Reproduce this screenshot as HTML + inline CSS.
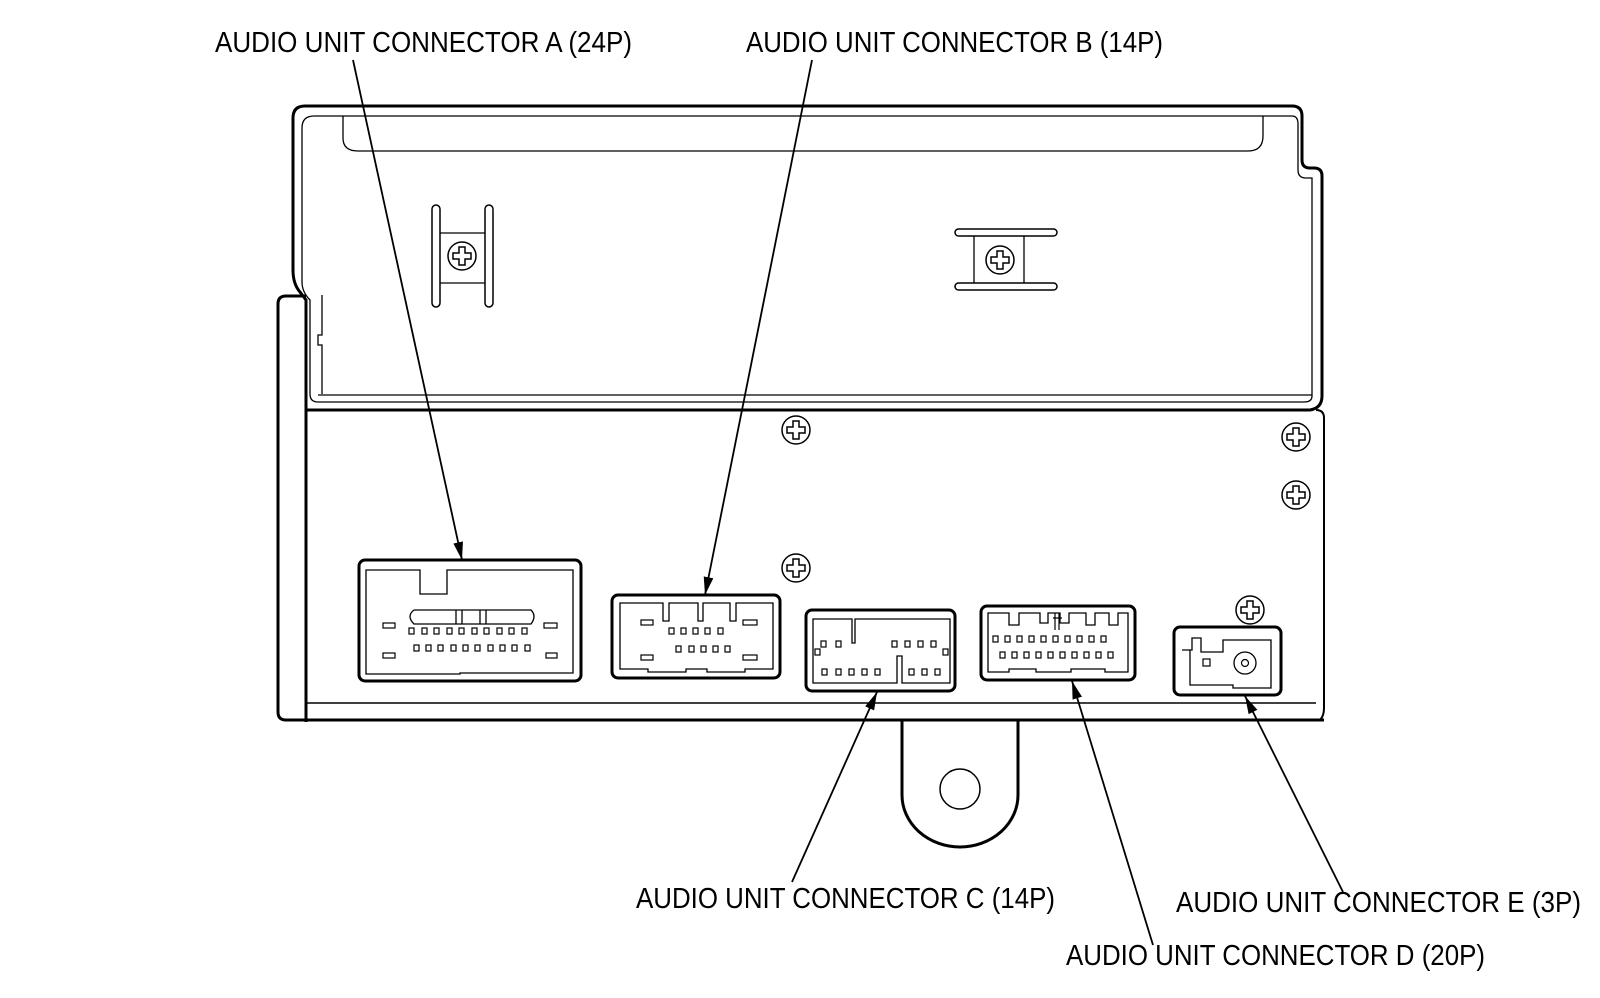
<!DOCTYPE html>
<html><head><meta charset="utf-8"><style>html,body{margin:0;padding:0;background:#fff}svg{display:block}</style></head>
<body>
<svg width="1600" height="998" viewBox="0 0 1600 998" xmlns="http://www.w3.org/2000/svg" font-family="Liberation Sans, Arial, sans-serif">
<defs>
<g id="scr"><circle r="14" fill="#fff" stroke="#000" stroke-width="1.5"/><path d="M-3,-9 h6 v6 h6 v6 h-6 v6 h-6 v-6 h-6 v-6 h6 z" fill="none" stroke="#000" stroke-width="1.5"/></g>
<marker id="ar" viewBox="0 0 10 10" refX="10" refY="5" markerWidth="18" markerHeight="14" orient="auto" markerUnits="userSpaceOnUse" preserveAspectRatio="none"><path d="M0,1.5 L10,5 L0,8.5 z" fill="#000"/></marker>
</defs>
<g fill="none" stroke="#000">
<path d="M306,722 V300 L300,292 Q293,284 293,270 V118 Q293,106 305,106 H1292 Q1302,106 1302,116 V160 Q1302,168 1310,168 H1314 Q1322,168 1322,176 V396 Q1322,408 1310,410 H306" stroke-width="3"/>
<path d="M302,282 V128 Q302,116 314,116 H1292 Q1298,116 1298,124 V170 Q1298,178 1306,178 H1312 V396 Q1312,402 1304,402 H318 Q310,402 310,394 V300 Q302,292 302,282" stroke-width="1.3"/>
<path d="M343,116 V138 Q343,151 358,151 H1248 Q1263,151 1263,136 V116" stroke-width="1.3"/>
<path d="M322,394 V345 H318 V335 H322 V295" stroke-width="1.3"/>
<line x1="318" y1="395" x2="1312" y2="395" stroke-width="1.3"/>
<path d="M306,296 H286 Q278,296 278,304 V712 Q278,720 286,720 H306" stroke-width="3"/>
<path d="M306,410 V720 H1320 Q1324,716 1324,708 V418 Q1324,410 1316,410" stroke-width="2"/>
<line x1="306" y1="703" x2="1316" y2="703" stroke-width="1.5"/>
<line x1="306" y1="720" x2="1324" y2="720" stroke-width="3"/>
<path d="M902,720 V795 A58,52 0 0 0 1018,795 V720" stroke-width="3"/>
<circle cx="960" cy="789" r="20" stroke-width="1.5"/>
<rect x="432" y="205" width="8" height="102" rx="4" stroke-width="1.5"/>
<rect x="485" y="205" width="8" height="102" rx="4" stroke-width="1.5"/>
<line x1="440" y1="233" x2="485" y2="233" stroke-width="1.3"/>
<line x1="440" y1="283" x2="485" y2="283" stroke-width="1.3"/>
<rect x="955" y="229" width="102" height="7" rx="3.5" stroke-width="1.5"/>
<rect x="955" y="283" width="102" height="7" rx="3.5" stroke-width="1.5"/>
<line x1="974" y1="236" x2="974" y2="283" stroke-width="1.3"/>
<line x1="1024" y1="236" x2="1024" y2="283" stroke-width="1.3"/>
<rect x="359" y="560" width="222" height="121" rx="6" stroke-width="3"/>
<path d="M366,570 H420 V594 H447 V570 H573 V673 H460 V674 H366 Z" stroke-width="1.3"/>
<path d="M414,610 H531 Q537,616 531,624 H414 Q406,616 414,610 Z" stroke-width="1.3"/>
<path d="M456,610 V624 M462,610 V624 M480,610 V624 M486,610 V624" stroke-width="1.3"/>
</g>
<g fill="none" stroke="#000" stroke-width="1.2">
<rect x="383" y="623" width="12" height="5"/><rect x="544" y="623" width="13" height="5"/>
<rect x="383" y="653" width="12" height="5"/><rect x="546" y="653" width="11" height="5"/>
<rect x="409" y="628" width="5" height="6"/><rect x="422" y="628" width="5" height="6"/><rect x="434" y="628" width="5" height="6"/><rect x="447" y="628" width="5" height="6"/><rect x="459" y="628" width="5" height="6"/><rect x="472" y="628" width="5" height="6"/><rect x="484" y="628" width="5" height="6"/><rect x="497" y="628" width="5" height="6"/><rect x="509" y="628" width="5" height="6"/><rect x="522" y="628" width="5" height="6"/>
<rect x="414" y="645" width="5" height="6"/><rect x="426" y="645" width="5" height="6"/><rect x="438" y="645" width="5" height="6"/><rect x="451" y="645" width="5" height="6"/><rect x="463" y="645" width="5" height="6"/><rect x="475" y="645" width="5" height="6"/><rect x="488" y="645" width="5" height="6"/><rect x="500" y="645" width="5" height="6"/><rect x="512" y="645" width="5" height="6"/><rect x="525" y="645" width="5" height="6"/>
</g>
<g fill="none" stroke="#000">
<rect x="612" y="595" width="168" height="83" rx="6" stroke-width="3"/>
<path d="M620,603 H663 V621 H669 V603 H698 V621 H703 V603 H730 V621 H736 V603 H773 V669 H745 V672 H707 V669 H686 V672 H648 V669 H620 Z" stroke-width="1.3"/>
</g>
<g fill="none" stroke="#000" stroke-width="1.2">
<rect x="641" y="620" width="12" height="5"/><rect x="743" y="620" width="14" height="5"/>
<rect x="641" y="655" width="12" height="5"/><rect x="743" y="655" width="14" height="5"/>
<rect x="669" y="628" width="5" height="6"/><rect x="681" y="628" width="5" height="6"/><rect x="693" y="628" width="5" height="6"/><rect x="705" y="628" width="5" height="6"/><rect x="718" y="628" width="5" height="6"/>
<rect x="676" y="646" width="5" height="6"/><rect x="689" y="646" width="5" height="6"/><rect x="701" y="646" width="5" height="6"/><rect x="713" y="646" width="5" height="6"/><rect x="725" y="646" width="5" height="6"/>
</g>
<g fill="none" stroke="#000">
<rect x="806" y="610" width="149" height="81" rx="6" stroke-width="3"/>
<path d="M813,619 V683 H897 V656 H902 V683 H950 V619 H855 V643 H852 V619 Z" stroke-width="1.3"/>
</g>
<g fill="none" stroke="#000" stroke-width="1.2">
<rect x="821" y="641" width="5" height="6"/><rect x="836" y="641" width="5" height="6"/>
<rect x="892" y="641" width="5" height="6"/><rect x="905" y="641" width="5" height="6"/><rect x="918" y="641" width="5" height="6"/><rect x="931" y="641" width="5" height="6"/>
<rect x="815" y="649" width="5" height="6"/><rect x="943" y="649" width="5" height="6"/>
<rect x="822" y="669" width="5" height="6"/><rect x="836" y="669" width="5" height="6"/><rect x="849" y="669" width="5" height="6"/><rect x="862" y="669" width="5" height="6"/><rect x="875" y="669" width="5" height="6"/>
<rect x="909" y="669" width="5" height="6"/><rect x="922" y="669" width="5" height="6"/><rect x="935" y="669" width="5" height="6"/>
</g>
<g fill="none" stroke="#000" transform="translate(-8,0)">
<rect x="989" y="606" width="154" height="74" rx="6" stroke-width="3"/>
<path d="M996,613 V672 H1017 V669 H1044 V672 H1079 V669 H1113 V672 H1136 V613 H1126 V625 H1117 V613 H1103 V625 H1094 V613 H1077 V623 H1068 V613 H1056 V623 H1048 V613 H1027 V625 H1017 V613 Z" stroke-width="1.3"/>
<path d="M1063,613 V630 M1067,613 V630 M1061,618 H1070" stroke-width="1.2"/>
<g stroke-width="1.2">
<rect x="1001" y="636" width="5" height="6"/><rect x="1013" y="636" width="5" height="6"/><rect x="1025" y="636" width="5" height="6"/><rect x="1037" y="636" width="5" height="6"/><rect x="1049" y="636" width="5" height="6"/><rect x="1061" y="636" width="5" height="6"/><rect x="1073" y="636" width="5" height="6"/><rect x="1085" y="636" width="5" height="6"/><rect x="1097" y="636" width="5" height="6"/><rect x="1109" y="636" width="5" height="6"/>
<rect x="1008" y="652" width="5" height="6"/><rect x="1020" y="652" width="5" height="6"/><rect x="1032" y="652" width="5" height="6"/><rect x="1044" y="652" width="5" height="6"/><rect x="1056" y="652" width="5" height="6"/><rect x="1068" y="652" width="5" height="6"/><rect x="1080" y="652" width="5" height="6"/><rect x="1092" y="652" width="5" height="6"/><rect x="1104" y="652" width="5" height="6"/><rect x="1116" y="652" width="5" height="6"/>
</g>
</g>
<g fill="none" stroke="#000">
<rect x="1174" y="627" width="107" height="68" rx="6" stroke-width="3"/>
<path d="M1182,650 H1192 V638 H1201 V652 H1223 V640 H1271 V688 H1233 V685 H1190 V650" stroke-width="1.3"/>
<rect x="1203" y="659" width="7" height="7" stroke-width="1.2"/>
<circle cx="1245" cy="663" r="11" stroke-width="1.3"/>
<circle cx="1245" cy="663" r="3.5" stroke-width="1.2"/>
</g>
<use href="#scr" x="462" y="256"/>
<use href="#scr" x="1000" y="260"/>
<use href="#scr" x="796" y="430"/>
<use href="#scr" x="1296" y="437"/>
<use href="#scr" x="1296" y="495"/>
<use href="#scr" x="796" y="568"/>
<use href="#scr" x="1250" y="610"/>
<g stroke="#000" stroke-width="1.8" marker-end="url(#ar)">
<line x1="353" y1="60" x2="462" y2="560"/>
<line x1="812" y1="60" x2="705" y2="595"/>
<line x1="792" y1="882" x2="877" y2="692"/>
<line x1="1153" y1="945" x2="1072" y2="681"/>
<line x1="1343" y1="892" x2="1245" y2="696"/>
</g>
<g font-size="29" fill="#000">
<text x="215" y="52" textLength="417" lengthAdjust="spacingAndGlyphs">AUDIO UNIT CONNECTOR A (24P)</text>
<text x="746" y="52" textLength="417" lengthAdjust="spacingAndGlyphs">AUDIO UNIT CONNECTOR B (14P)</text>
<text x="636" y="908" textLength="419" lengthAdjust="spacingAndGlyphs">AUDIO UNIT CONNECTOR C (14P)</text>
<text x="1066" y="965" textLength="419" lengthAdjust="spacingAndGlyphs">AUDIO UNIT CONNECTOR D (20P)</text>
<text x="1176" y="912" textLength="405" lengthAdjust="spacingAndGlyphs">AUDIO UNIT CONNECTOR E (3P)</text>
</g>
</svg>
</body></html>
